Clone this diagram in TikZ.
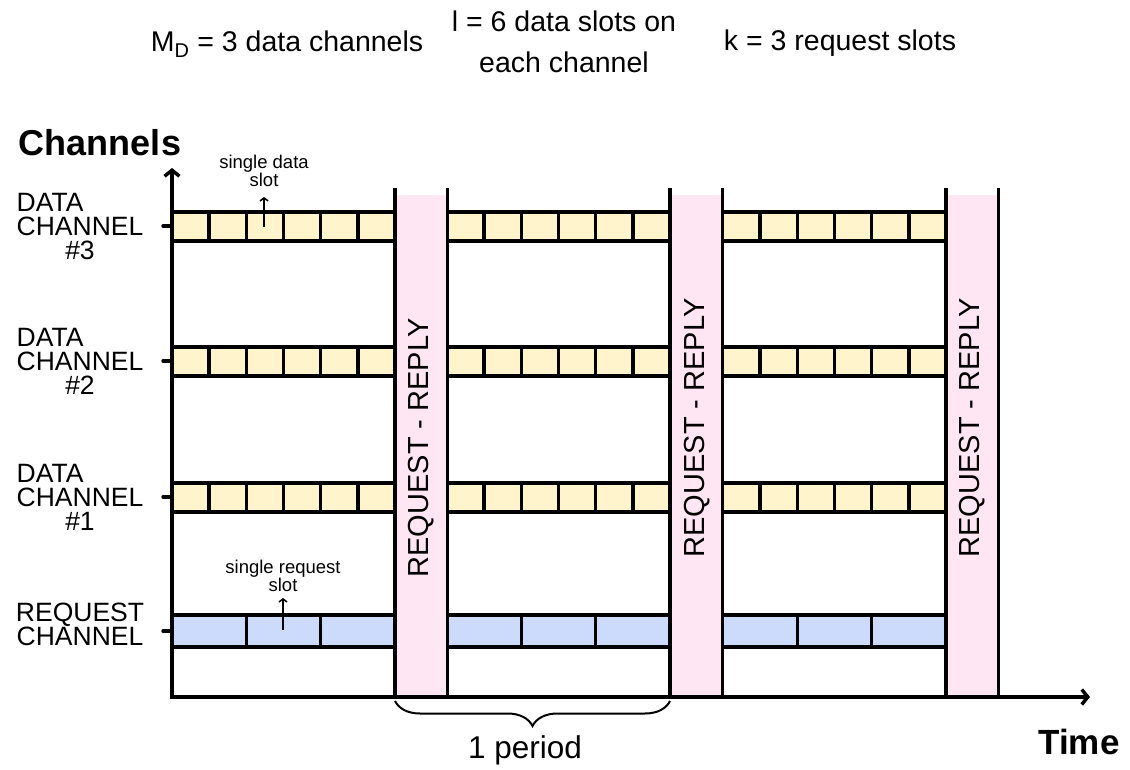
\documentclass[tikz,border=0pt]{standalone}
\usepackage{fontspec}
\setmainfont{Liberation Sans}
\usetikzlibrary{arrows.meta,decorations.pathreplacing}
\definecolor{datafill}{HTML}{FFF4CC}
\definecolor{reqfill}{HTML}{CCDBFC}
\definecolor{bandfill}{HTML}{FFE6F2}
\tikzset{
  bl/.style={line width=3.5pt},
  axisline/.style={line width=3.5pt,-{Straight Barb[length=6pt,width=15pt]}},
  smallarrow/.style={line width=1.5pt,-{Straight Barb[length=3pt,width=8pt]}},
  lbl/.style={font=\fontsize{26.5}{24}\selectfont,align=center,inner sep=0pt},
  toptext/.style={font=\fontsize{28.5}{41}\selectfont,align=center,inner sep=0pt},
  bandtext/.style={font=\fontsize{29}{30}\selectfont,rotate=90,inner sep=0pt},
  smalltext/.style={font=\fontsize{18.5}{18}\selectfont,align=center,inner sep=0pt},
  bigbold/.style={font=\fontsize{36}{40}\selectfont\bfseries,inner sep=0pt},
}
\begin{document}
\begin{tikzpicture}[x=1pt,y=-1pt]
\useasboundingbox (0,0) rectangle (1130,770);
% bands
\foreach \bx in {395,670,946}{
  \fill[bandfill] (\bx,195) rectangle (\bx+52.5,697);
}
% data and request blocks
\foreach \bx in {172,447,723}{
  \foreach \ty in {212,347,483}{
    \fill[datafill] (\bx,\ty) rectangle ++(223,29);
    \draw[bl] (\bx,\ty) -- ++(223,0);
    \draw[bl] (\bx,\ty+29) -- ++(223,0);
    \foreach \i in {1,...,5}{
      \draw[bl] ({\bx+\i*223/6},\ty) -- ++(0,29);
    }
  }
  \fill[reqfill] (\bx,615) rectangle ++(223,32);
  \draw[bl] (\bx,615) -- ++(223,0);
  \draw[bl] (\bx,647) -- ++(223,0);
  \foreach \i in {1,2}{
    \draw[bl] ({\bx+\i*223/3},615) -- ++(0,32);
  }
}
% band borders
\foreach \bx in {395,670,946}{
  \draw[bl] (\bx,188) -- (\bx,697);
  \draw[bl] (\bx+52.5,188) -- (\bx+52.5,697);
}
% axes
\coordinate (origin) at (172,697);
\coordinate (ytip) at (172,168);
\coordinate (xtip) at (1090,697);
\draw[axisline] (172,698.75) -- (ytip);
\draw[axisline] (origin) -- (xtip);
% ticks
\foreach \ty in {226,361,497,631}{
  \draw[bl,line cap=round] (163,\ty) -- (172,\ty);
}
% band labels
\node[bandtext] (rr1) at (421,448) {REQUEST - REPLY};
\node[bandtext] (rr2) at (697,428) {REQUEST - REPLY};
\node[bandtext] (rr3) at (972,428) {REQUEST - REPLY};
% left labels
\node[lbl] (dc3) at (80,226) {\rlap{DATA}\phantom{CHANNEL}\\CHANNEL\\\#3};
\node[lbl] (dc2) at (80,361) {\rlap{DATA}\phantom{CHANNEL}\\CHANNEL\\\#2};
\node[lbl] (dc1) at (80,497) {\rlap{DATA}\phantom{CHANNEL}\\CHANNEL\\\#1};
\node[lbl] (rc) at (80,624) {REQUEST\\CHANNEL};
% axis titles
\node[bigbold] (chan) at (100,143) {Channels};
\node[bigbold,font=\fontsize{35}{40}\selectfont\bfseries] (time) at (1079,742) {Time};
% top texts
\node[toptext,anchor=base] (md) at (287,52) {M\textsubscript{D} = 3 data channels};
\node[toptext,anchor=north] (lslots) at (564,10.5) {l = 6 data slots on\\each channel};
\node[toptext,anchor=base] (kslots) at (840,51) {k = 3 request slots};
% annotations
\node[smalltext] (sds) at (264,171) {single data\\slot};
\coordinate (sdsfrom) at (264,227);
\coordinate (sdsto) at (264,197);
\draw[smallarrow] (sdsfrom) -- (sdsto);
\node[smalltext] (srs) at (283,576) {single request\\slot};
\coordinate (srsfrom) at (283,630);
\coordinate (srsto) at (283,598);
\draw[smallarrow] (srsfrom) -- (srsto);
% brace
\coordinate (bra) at (395,701);
\coordinate (brb) at (670,701);
\draw[line width=2pt,decorate,decoration={brace,mirror,amplitude=25pt}] (bra) -- (brb);
\node[font=\fontsize{31.5}{34}\selectfont,anchor=base,inner sep=0pt] (period) at (525,758) {1 period};
\end{tikzpicture}
\end{document}
